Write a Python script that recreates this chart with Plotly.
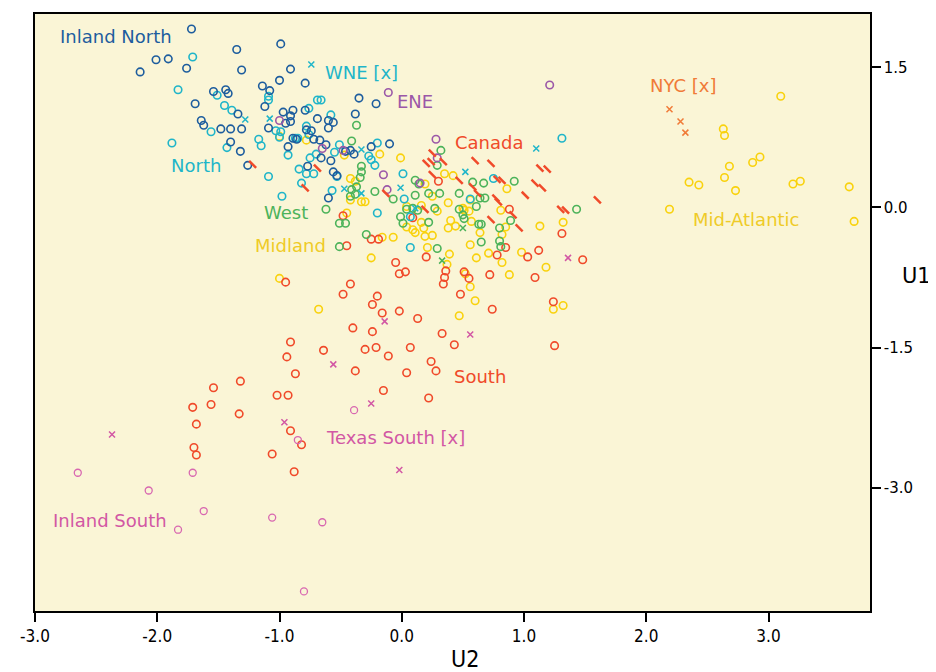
import plotly.graph_objects as go

# ---------------- data (U2, U1) ----------------
inland_north = [(-1.72, 1.91), (-0.99, 1.75), (-1.35, 1.69), (-2.01, 1.58), (-1.91, 1.59), (-1.76, 1.49),
                (-2.14, 1.45), (-1.31, 1.47), (-0.91, 1.48), (-1.00, 1.36), (-0.79, 1.33), (-1.14, 1.30),
                (-1.08, 1.25), (-1.54, 1.24), (-1.44, 1.26), (-1.42, 1.22), (-1.12, 1.08), (-1.69, 1.11),
                (-0.97, 1.02), (-0.89, 1.04), (-0.91, 0.98), (-0.79, 1.04), (-1.34, 1.00), (-1.64, 0.93),
                (-1.62, 0.88), (-1.48, 0.84), (-1.40, 0.84), (-1.31, 0.84), (-1.09, 0.85), (-0.95, 0.90),
                (-0.91, 0.92), (-0.69, 0.95), (-0.60, 0.93), (-0.56, 0.91), (-0.60, 0.85), (-0.78, 0.83),
                (-0.74, 0.82), (-1.40, 0.70), (-1.32, 0.60), (-1.26, 0.45), (-0.89, 0.74), (-0.86, 0.73),
                (-0.93, 0.65), (-0.72, 0.73), (-0.67, 0.72), (-0.62, 0.67), (-0.77, 0.44), (-0.66, 0.53),
                (-0.58, 0.50), (-0.56, 0.38), (-0.53, 0.34), (-0.60, 0.10), (-0.38, 1.00), (-0.35, 1.17),
                (-0.21, 1.11), (-0.46, 0.60), (-0.42, 0.61), (-0.39, 0.57), (-0.25, 0.65), (-0.10, 0.68)]

north = [(-1.71, 1.61), (-1.83, 1.26), (-1.51, 1.20), (-1.45, 1.09), (-1.39, 1.04), (-1.56, 0.81),
         (-1.88, 0.69), (-1.43, 0.64), (-1.09, 1.19), (-1.09, 1.15), (-0.69, 1.15), (-0.66, 1.15),
         (-0.76, 1.06), (-0.58, 0.99), (-1.03, 0.82), (-0.99, 0.81), (-1.00, 0.75), (-1.17, 0.73),
         (-1.15, 0.66), (-0.87, 0.74), (-0.85, 0.74), (-0.78, 0.87), (-0.76, 0.78), (-0.93, 0.56),
         (-0.75, 0.53), (-0.70, 0.57), (-0.84, 0.41), (-0.78, 0.36), (-0.72, 0.36), (-0.82, 0.26),
         (-1.09, 0.33), (-0.98, 0.12), (-0.57, 0.18), (-0.51, 0.67), (-0.55, 0.59), (-0.53, 0.33),
         (-0.27, 0.55), (-0.25, 0.51), (-0.22, 0.45), (-0.20, 0.69), (0.01, 0.36), (0.02, 0.09),
         (-0.20, -0.06), (0.07, -0.43), (0.56, 0.09), (0.75, 0.31), (1.31, 0.74), (0.07, -0.10)]

wne = [(-0.74, 1.53), (-1.28, 0.94), (-1.08, 0.95), (-0.47, 0.20), (-0.33, 0.62), (-0.33, 0.15),
       (-0.01, 0.21), (0.52, 0.38), (1.10, 0.63), (0.11, -0.01)]

west_x = [(0.50, -0.22), (0.33, -0.57)]

ene = [(-0.11, 1.23), (1.21, 1.31), (-1.00, 0.93), (-0.65, 0.63), (-0.48, 0.61), (0.28, 0.73),
       (0.29, 0.53), (-0.15, 0.35), (-0.12, 0.19), (0.15, 0.26)]

canada = [(-1.22, 0.46), (-0.69, 0.42), (-0.79, 0.21), (0.25, 0.58), (0.20, 0.47), (0.24, 0.49),
          (0.25, 0.35), (0.34, 0.49), (-0.13, 0.15), (0.60, 0.50), (0.73, 0.47), (0.47, 0.29),
          (0.78, 0.30), (0.82, 0.29), (1.01, 0.13), (1.13, 0.42), (1.19, 0.41), (1.09, 0.26),
          (1.15, 0.21), (0.77, 0.10), (0.79, 0.06), (0.19, -0.02), (0.73, -0.13), (0.96, -0.22),
          (1.30, -0.02), (1.34, -0.03), (1.60, 0.08), (0.62, 0.15), (0.91, -0.08), (0.58, 0.22)]

west = [(-0.37, 0.88), (-0.41, 0.71), (-0.33, 0.44), (-0.33, 0.38), (-0.34, 0.32), (-0.37, 0.22),
        (-0.41, 0.19), (-0.38, 0.14), (-0.42, 0.12), (-0.62, -0.02), (-0.51, -0.17), (-0.46, -0.17),
        (-0.51, -0.42), (-0.29, -0.29), (-0.22, 0.17), (-0.07, 0.09), (0.11, 0.29), (0.14, 0.25),
        (0.11, 0.13), (0.22, 0.15), (0.31, 0.15), (0.29, 0.45), (0.32, 0.61), (-0.01, -0.10),
        (0.01, -0.17), (0.04, -0.02), (0.09, -0.01), (0.13, -0.03), (0.22, -0.16), (0.27, -0.01),
        (0.29, -0.44), (0.47, 0.15), (0.58, 0.27), (0.67, 0.26), (0.47, -0.02), (0.50, -0.08),
        (0.51, -0.12), (0.64, 0.10), (0.68, 0.10), (0.61, 0.01), (0.63, -0.18), (0.65, -0.18),
        (0.80, -0.22), (0.80, -0.36), (0.81, -0.42), (0.65, -0.37), (0.89, -0.14), (0.92, 0.28),
        (1.43, -0.02)]

midland = [(-0.78, 0.72), (-1.00, 0.76), (-0.47, 0.56), (-0.18, 0.57), (-0.42, 0.31), (-0.38, 0.28),
           (-0.45, -0.06), (-0.42, 0.08), (-0.33, 0.06), (-0.30, 0.06), (-0.01, 0.53), (-0.07, -0.32),
           (-0.16, -0.32), (-0.25, -0.54), (-1.00, -0.76), (-0.68, -1.09), (0.04, 0.01), (0.04, -0.21),
           (0.09, -0.24), (0.11, -0.27), (0.16, 0.02), (0.19, 0.25), (0.16, -0.16), (0.18, -0.22),
           (0.25, -0.30), (0.19, -0.31), (0.21, -0.43), (0.25, 0.12), (0.29, -0.04), (0.35, 0.36),
           (0.42, 0.34), (0.38, 0.05), (0.40, -0.14), (0.44, -0.20), (0.38, -0.22), (0.50, -0.01),
           (0.51, -0.03), (0.55, -0.04), (0.56, -0.40), (0.56, 0.08), (0.57, -0.15), (0.61, -0.54),
           (0.64, -0.27), (0.71, -0.49), (0.81, -0.03), (0.82, -0.29), (0.85, -0.21), (0.86, 0.20),
           (0.98, -0.48), (1.13, -0.20), (1.18, -0.64), (1.32, -0.16), (0.82, -0.59), (0.88, -0.72),
           (0.39, -0.50), (0.37, -0.61), (0.56, -0.85), (0.60, -1.00), (0.47, -1.16), (1.32, -1.05),
           (1.24, -1.09), (0.52, -0.71)]

mid_atlantic = [(3.10, 1.19), (2.63, 0.84), (2.64, 0.77), (2.68, 0.44), (2.87, 0.48), (2.93, 0.54),
                (2.64, 0.32), (2.35, 0.27), (2.43, 0.24), (2.73, 0.18), (3.20, 0.25), (3.26, 0.28),
                (3.66, 0.22), (2.19, -0.02), (3.70, -0.15)]

nyc = [(2.19, 1.05), (2.28, 0.92), (2.32, 0.80)]

south = [(-0.48, -0.09), (-0.45, -0.41), (-0.25, -0.34), (-0.19, -0.34), (-0.05, -0.59), (-0.02, -0.71),
         (0.03, -0.69), (0.20, -0.53), (0.09, -0.11), (0.30, 0.28), (0.88, -0.02), (0.85, -0.43),
         (0.78, -0.51), (1.03, -0.53), (1.12, -0.46), (1.31, -0.28), (1.48, -0.56), (0.72, -0.72),
         (1.09, -0.75), (0.51, -0.69), (0.55, -0.76), (0.36, -0.68), (0.34, -0.82), (0.35, -0.75),
         (0.48, -0.93), (-0.42, -0.82), (-0.48, -0.93), (-0.20, -0.95), (-0.95, -0.80), (-0.24, -1.04),
         (-0.02, -1.11), (0.13, -1.19), (-0.16, -1.13), (-0.40, -1.29), (-0.24, -1.33), (-0.64, -1.53),
         (-0.30, -1.52), (-0.21, -1.50), (-0.11, -1.59), (0.07, -1.50), (0.33, -1.35), (0.43, -1.47),
         (0.74, -1.09), (1.24, -1.01), (1.25, -1.48), (0.24, -1.65), (0.28, -1.75), (0.04, -1.77),
         (-0.38, -1.75), (-0.15, -1.96), (0.22, -2.04), (-0.91, -1.44), (-0.94, -1.60), (-0.87, -1.78),
         (-1.32, -1.86), (-1.54, -1.93), (-1.02, -2.01), (-0.93, -2.01), (-1.71, -2.14), (-1.56, -2.11),
         (-1.33, -2.21), (-1.68, -2.32), (-0.91, -2.39), (-0.82, -2.54), (-1.70, -2.57), (-1.68, -2.65),
         (-1.06, -2.64), (-0.88, -2.83)]

texas_south = [(-2.37, -2.43), (-0.96, -2.30), (-0.56, -1.68), (-0.14, -1.22), (0.56, -1.36),
               (-0.25, -2.10), (1.36, -0.54), (-0.02, -2.81)]

inland_south = [(-2.65, -2.84), (-2.07, -3.03), (-1.71, -2.84), (-1.62, -3.25), (-1.83, -3.45),
                (-1.06, -3.32), (-0.65, -3.37), (-0.80, -4.11), (-0.85, -2.49), (-0.39, -2.17)]

region_names = ["Inland North", "WNE [x]", "ENE", "NYC [x]", "Canada", "North", "West",
                "Midland", "Mid-Atlantic", "South", "Texas South [x]", "Inland South"]

x_tick_values = [-3, -2, -1, 0, 1, 2, 3]
x_tick_labels = ["-3.0", "-2.0", "-1.0", "0.0", "1.0", "2.0", "3.0"]
y_tick_values = [1.5, 0, -1.5, -3]
y_tick_labels = ["1.5", "0.0", "-1.5", "-3.0"]

# ---------------- styles ----------------
C_INLAND_N = "#1d5d9e"
C_CYAN = "#1fb5c9"
C_PURPLE = "#9b58a8"
C_RED = "#f04a2a"
C_GREEN = "#4cb35a"
C_YELLOW = "#f9d20e"
C_YELLOW_TXT = "#efcb27"
C_ORANGE = "#f07b38"
C_PINK = "#d257a4"
C_PINK2 = "#d867b0"

fig = go.Figure()


def add(points, color, symbol, size, width):
    fig.add_trace(go.Scatter(
        x=[p[0] for p in points], y=[p[1] for p in points], mode="markers",
        marker=dict(symbol=symbol, size=size, color=color, line=dict(color=color, width=width)),
        hoverinfo="skip", showlegend=False))


add(midland, C_YELLOW, "circle-open", 7.5, 1.6)
add(mid_atlantic, C_YELLOW, "circle-open", 7.5, 1.6)
add(south, C_RED, "circle-open", 7.5, 1.6)
add(west, C_GREEN, "circle-open", 7.5, 1.6)
add(north, C_CYAN, "circle-open", 7.5, 1.6)
add(inland_north, C_INLAND_N, "circle-open", 7.5, 1.6)
add(ene, C_PURPLE, "circle-open", 7.5, 1.6)
add(inland_south, C_PINK2, "circle-open", 7, 1.3)
add(canada, C_RED, "line-nw", 7, 2.5)
add(wne, C_CYAN, "x-thin-open", 6, 1.5)
add(west_x, C_GREEN, "x-thin-open", 6, 1.5)
add(nyc, C_ORANGE, "x-thin-open", 6, 1.5)
add(texas_south, C_PINK, "x-thin-open", 6, 1.5)

label_pos = [(-2.34, 1.83), (-0.33, 1.44), (0.11, 1.13), (2.30, 1.31), (0.72, 0.70), (-1.68, 0.45),
             (-0.95, -0.05), (-0.91, -0.41), (2.82, -0.13), (0.64, -1.81), (-0.05, -2.46), (-2.39, -3.35)]
label_col = [C_INLAND_N, C_CYAN, C_PURPLE, C_ORANGE, C_RED, C_CYAN, C_GREEN, C_YELLOW_TXT,
             C_YELLOW_TXT, C_RED, C_PINK, C_PINK]

for name, (lx, ly), col in zip(region_names, label_pos, label_col):
    fig.add_annotation(x=lx, y=ly, text=name, showarrow=False, xanchor="center", yanchor="middle",
                       font=dict(family="DejaVu Sans, sans-serif", size=18, color=col))

fig.add_annotation(xref="paper", yref="paper", x=0.515, y=-0.080, text="U2", showarrow=False,
                   xanchor="center", yanchor="middle",
                   font=dict(family="DejaVu Sans Condensed, Liberation Sans Narrow, DejaVu Sans, sans-serif",
                             size=23, color="black"))
fig.add_annotation(xref="paper", yref="paper", x=1.056, y=0.561, text="U1", showarrow=False,
                   xanchor="center", yanchor="middle",
                   font=dict(family="DejaVu Sans, sans-serif", size=21, color="black"))

# the page body adds an 8px offset, so the figure is sized to fit the window from there
fig.update_layout(
    width=928, height=664,
    margin=dict(l=27, r=66, t=4, b=61),
    paper_bgcolor="white",
    plot_bgcolor="#faf5d6",
    showlegend=False,
    hovermode=False,
    xaxis=dict(range=[-3.0, 3.83], showgrid=False, zeroline=False,
               tickmode="array", tickvals=x_tick_values, ticktext=x_tick_labels,
               ticks="outside", ticklen=9, tickwidth=1.5, tickcolor="black",
               showline=True, linecolor="black", linewidth=1.5, mirror=True,
               tickfont=dict(family="DejaVu Sans Condensed, Liberation Sans Narrow, DejaVu Sans, sans-serif",
                             size=17, color="black")),
    yaxis=dict(range=[-4.32, 2.07], side="right", showgrid=False, zeroline=False,
               tickmode="array", tickvals=y_tick_values, ticktext=y_tick_labels,
               ticks="outside", ticklen=9, tickwidth=1.5, tickcolor="black",
               showline=True, linecolor="black", linewidth=1.5, mirror=True,
               tickfont=dict(family="DejaVu Sans, sans-serif", size=15, color="black")),
)

fig.write_html("out.html")
